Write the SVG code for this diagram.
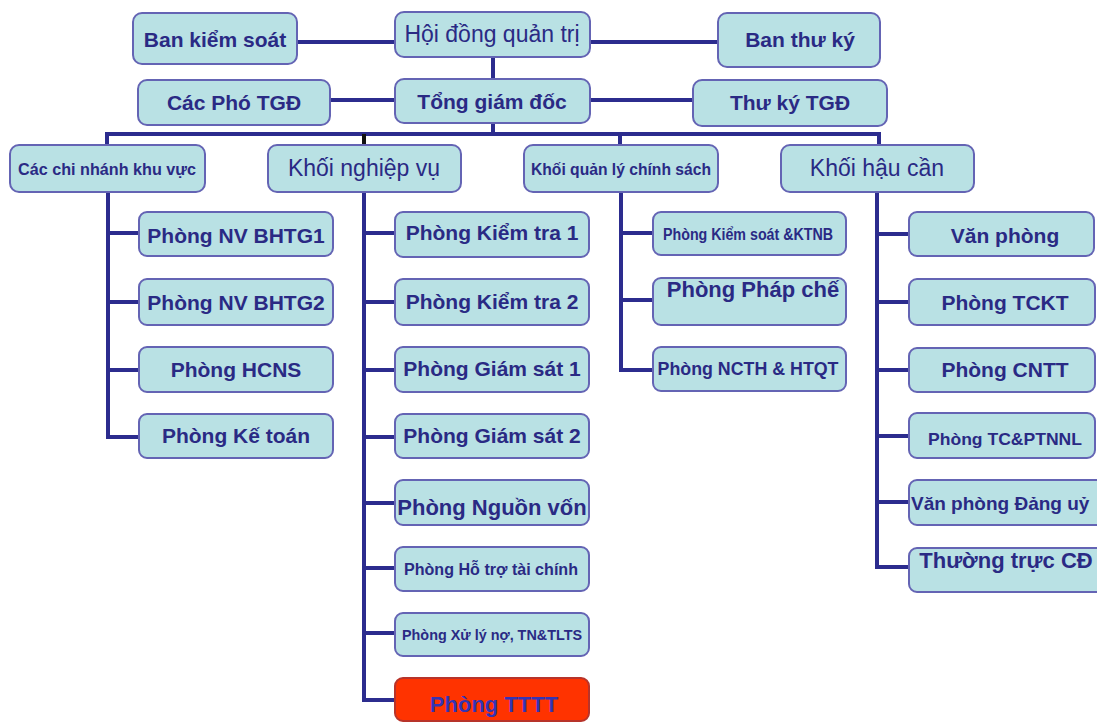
<svg xmlns="http://www.w3.org/2000/svg" width="1097" height="722" viewBox="0 0 1097 722">
  <style>
    .box { fill: #b9e1e4; stroke: #6464b4; stroke-width: 2; }
    .hot { fill: #ff3300; stroke: #b8342a; stroke-width: 2; }
    .t  { font-family: "Liberation Sans", Arial, sans-serif; font-weight: bold; font-size: 21px; fill: #2a2a84; text-anchor: middle; }
    .tr { font-family: "Liberation Sans", Arial, sans-serif; font-size: 23px; fill: #2a2a84; text-anchor: middle; }
    .ts { font-family: "Liberation Sans", Arial, sans-serif; font-weight: bold; font-size: 16px; fill: #2a2a84; text-anchor: middle; }
    .s15 { font-size: 15px; }
    .s17 { font-size: 17px; }
    .s18 { font-size: 18px; }
    .s19 { font-size: 19px; }
    .s22 { font-size: 22px; }
    .left { text-anchor: start; }
    .hot-t { fill: #3434b4; }
    .ln { fill: none; stroke: #2c2c8e; stroke-width: 4; stroke-linecap: square; }
    .tick { fill: none; stroke: #111; stroke-width: 4; }
  </style>
  <rect width="1097" height="722" fill="#ffffff"/>

  <!-- connectors -->
  <g id="connectors">
    <path class="ln" d="M297 42 H395 M590 42 H718 M330 100 H395 M590 100 H693"/>
    <path class="ln" d="M493 57 V79 M493 123 V134"/>
    <path class="ln" d="M107 145 V134 H879 V145 M620 134 V145"/>
    <path class="tick" d="M364 134 V145"/>
    <!-- branch office column -->
    <path class="ln" d="M108 192 V437 H139 M108 233 H139 M108 302 H139 M108 370 H139"/>
    <!-- operations column -->
    <path class="ln" d="M364 192 V700 H395 M364 233 H395 M364 302 H395 M364 370 H395 M364 437 H395 M364 503 H395 M364 568 H395 M364 633 H395"/>
    <!-- policy column -->
    <path class="ln" d="M621 192 V370 H653 M621 233 H653 M621 300 H653"/>
    <!-- logistics column -->
    <path class="ln" d="M877 192 V567 H909 M877 234 H909 M877 302 H909 M877 370 H909 M877 436 H909 M877 502 H909"/>
  </g>

  <!-- top management -->
  <g id="ban-kiem-soat"><rect class="box" x="133" y="13" width="164" height="51" rx="9"/><text class="t" x="215" y="47">Ban kiểm soát</text></g>
  <g id="hoi-dong-quan-tri"><rect class="box" x="395" y="12" width="195" height="45" rx="9"/><text class="tr" x="492" y="42">Hội đồng quản trị</text></g>
  <g id="ban-thu-ky"><rect class="box" x="718" y="13" width="162" height="54" rx="9"/><text class="t" x="800" y="47">Ban thư ký</text></g>
  <g id="cac-pho-tgd"><rect class="box" x="138" y="80" width="192" height="45" rx="9"/><text class="t" x="234" y="110">Các Phó TGĐ</text></g>
  <g id="tong-giam-doc"><rect class="box" x="395" y="79" width="195" height="44" rx="9"/><text class="t" x="492" y="109">Tổng giám đốc</text></g>
  <g id="thu-ky-tgd"><rect class="box" x="693" y="80" width="194" height="46" rx="9"/><text class="t" x="790" y="110">Thư ký TGĐ</text></g>

  <!-- divisions -->
  <g id="cac-chi-nhanh"><rect class="box" x="10" y="145" width="195" height="47" rx="9"/><text class="ts s17" x="107" y="175" textLength="178" lengthAdjust="spacingAndGlyphs">Các chi nhánh khu vực</text></g>
  <g id="khoi-nghiep-vu"><rect class="box" x="268" y="145" width="193" height="47" rx="9"/><text class="tr" x="364" y="176">Khối nghiệp vụ</text></g>
  <g id="khoi-quan-ly"><rect class="box" x="524" y="145" width="194" height="47" rx="9"/><text class="ts s17" x="621" y="175" textLength="180" lengthAdjust="spacingAndGlyphs">Khối quản lý chính sách</text></g>
  <g id="khoi-hau-can"><rect class="box" x="781" y="145" width="193" height="47" rx="9"/><text class="tr" x="877" y="176">Khối hậu cần</text></g>

  <!-- branch office departments -->
  <g id="nv-bhtg1"><rect class="box" x="139" y="212" width="194" height="44" rx="8"/><text class="t" x="236" y="243">Phòng NV BHTG1</text></g>
  <g id="nv-bhtg2"><rect class="box" x="139" y="279" width="194" height="46" rx="8"/><text class="t" x="236" y="310">Phòng NV BHTG2</text></g>
  <g id="hcns"><rect class="box" x="139" y="347" width="194" height="45" rx="8"/><text class="t" x="236" y="377">Phòng HCNS</text></g>
  <g id="ke-toan"><rect class="box" x="139" y="414" width="194" height="44" rx="8"/><text class="t" x="236" y="443">Phòng Kế toán</text></g>

  <!-- operations departments -->
  <g id="kiem-tra-1"><rect class="box" x="395" y="212" width="194" height="45" rx="8"/><text class="t" x="492" y="240">Phòng Kiểm tra 1</text></g>
  <g id="kiem-tra-2"><rect class="box" x="395" y="279" width="194" height="46" rx="8"/><text class="t" x="492" y="309">Phòng Kiểm tra 2</text></g>
  <g id="giam-sat-1"><rect class="box" x="395" y="347" width="194" height="45" rx="8"/><text class="t" x="492" y="376">Phòng Giám sát 1</text></g>
  <g id="giam-sat-2"><rect class="box" x="395" y="414" width="194" height="44" rx="8"/><text class="t" x="492" y="443">Phòng Giám sát 2</text></g>
  <g id="nguon-von"><rect class="box" x="395" y="480" width="194" height="45" rx="8"/><text class="t s22" x="492" y="515">Phòng Nguồn vốn</text></g>
  <g id="ho-tro-tai-chinh"><rect class="box" x="395" y="547" width="194" height="44" rx="8"/><text class="ts" x="491" y="575" textLength="174" lengthAdjust="spacingAndGlyphs">Phòng Hỗ trợ tài chính</text></g>
  <g id="xu-ly-no"><rect class="box" x="395" y="613" width="194" height="43" rx="8"/><text class="ts s15" x="492" y="640" textLength="180" lengthAdjust="spacingAndGlyphs">Phòng Xử lý nợ, TN&amp;TLTS</text></g>
  <g id="phong-tttt"><rect class="hot" x="395" y="678" width="194" height="43" rx="8"/><text class="t s22 hot-t" x="494" y="712">Phòng TTTT</text></g>

  <!-- policy departments -->
  <g id="kiem-soat-ktnb"><rect class="box" x="653" y="212" width="193" height="43" rx="8"/><text class="ts" x="748" y="240" textLength="170" lengthAdjust="spacingAndGlyphs">Phòng Kiểm soát &amp;KTNB</text></g>
  <g id="phap-che"><rect class="box" x="653" y="278" width="193" height="47" rx="8"/><text class="t s22" x="753" y="297">Phòng Pháp chế</text></g>
  <g id="ncth-htqt"><rect class="box" x="653" y="347" width="193" height="44" rx="8"/><text class="ts s18" x="748" y="375" textLength="181" lengthAdjust="spacingAndGlyphs">Phòng NCTH &amp; HTQT</text></g>

  <!-- logistics departments -->
  <g id="van-phong"><rect class="box" x="909" y="212" width="185" height="44" rx="8"/><text class="t" x="1005" y="243">Văn phòng</text></g>
  <g id="tckt"><rect class="box" x="909" y="279" width="186" height="46" rx="8"/><text class="t" x="1005" y="310">Phòng TCKT</text></g>
  <g id="cntt"><rect class="box" x="909" y="348" width="186" height="44" rx="8"/><text class="t" x="1005" y="377">Phòng CNTT</text></g>
  <g id="tc-ptnnl"><rect class="box" x="909" y="413" width="186" height="45" rx="8"/><text class="ts s17" x="1005" y="445" textLength="154" lengthAdjust="spacingAndGlyphs">Phòng TC&amp;PTNNL</text></g>
  <g id="dang-uy"><rect class="box" x="909" y="480" width="196" height="45" rx="8"/><text class="t s19 left" x="911" y="510">Văn phòng Đảng uỷ</text></g>
  <g id="thuong-truc-cd"><rect class="box" x="909" y="548" width="196" height="44" rx="8"/><text class="t s22" x="1006" y="568">Thường trực CĐ</text></g>
</svg>
